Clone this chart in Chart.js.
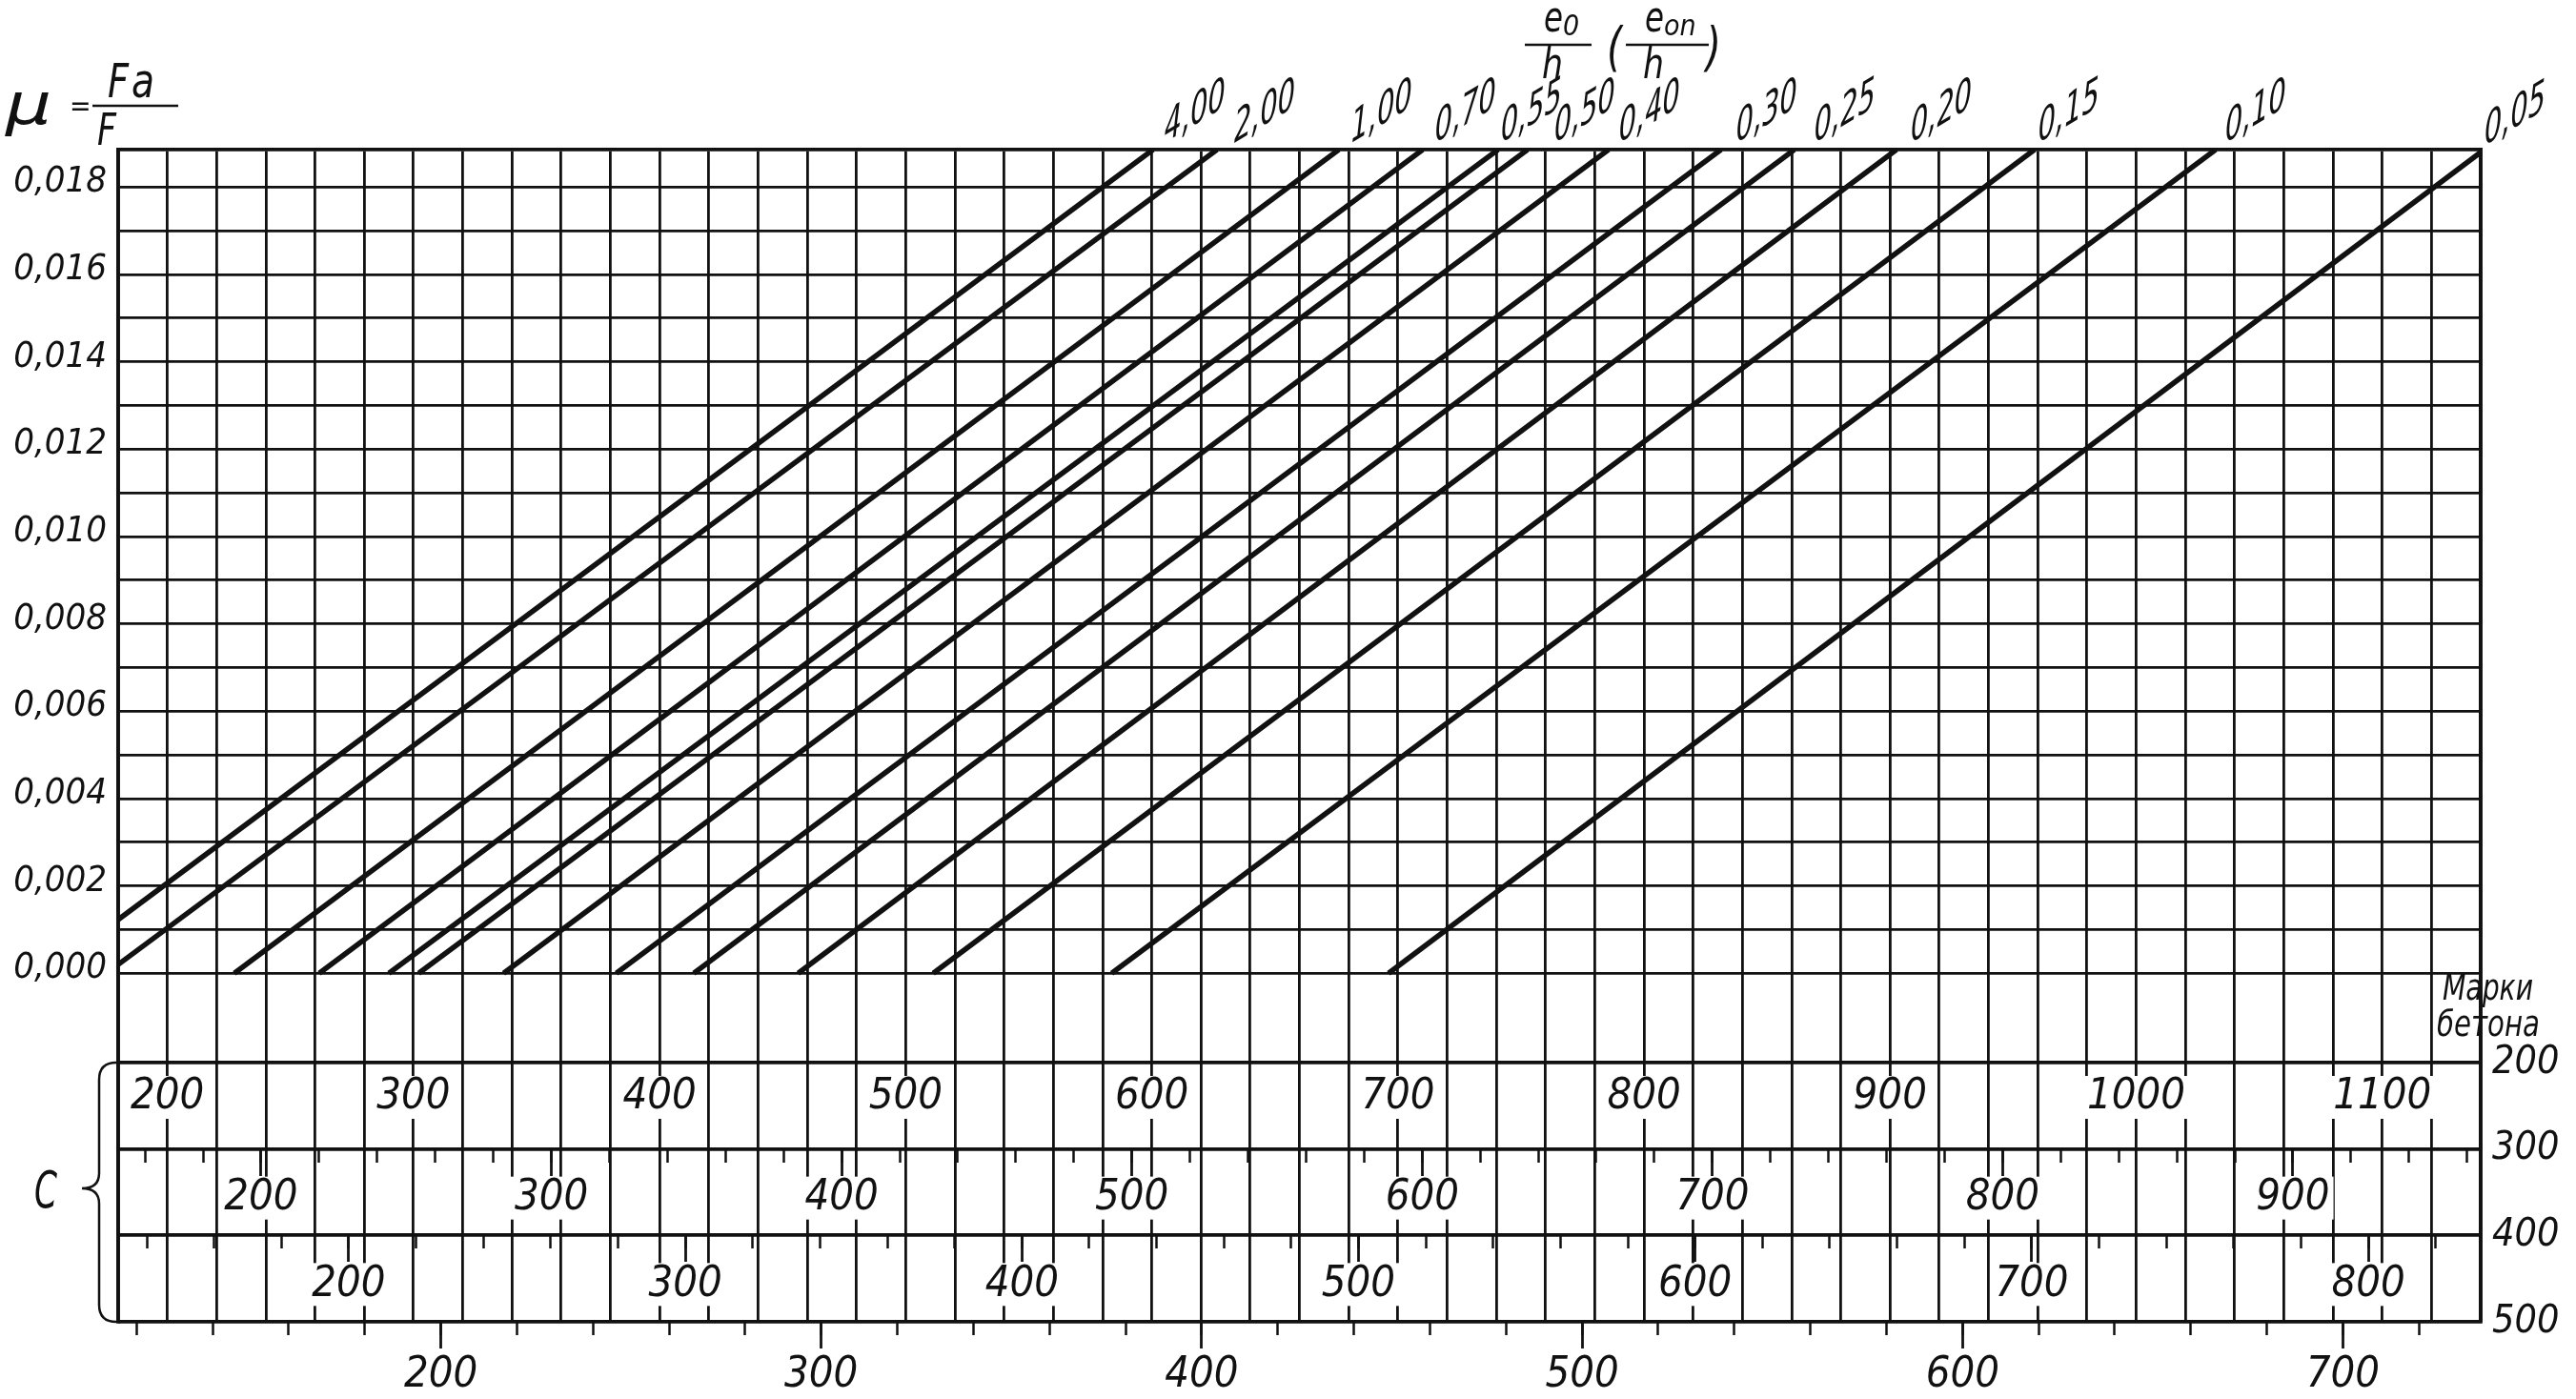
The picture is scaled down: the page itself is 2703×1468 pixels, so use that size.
<!DOCTYPE html>
<html lang="ru">
<head>
<meta charset="utf-8">
<title>Номограмма μ – e0/h – C</title>
<script src="https://cdn.jsdelivr.net/npm/chart.js@4.4.1/dist/chart.umd.min.js"></script>
<style>
  html, body { margin: 0; background: #fff; }
  .box { position: relative; width: 2703px; height: 1468px; }
</style>
</head>
<body>
<div class="box"><canvas id="nomogram"></canvas></div>
<script>
// e0/h (e0n/h) lines: x on the grade-200 C scale, y = mu
const eLabels = ['4,00', '2,00', '1,00', '0,70', '0,55', '0,50', '0,40', '0,30', '0,25', '0,20', '0,15', '0,10', '0,05'];
const xStart  = [180, 180, 227.2, 261.7, 290.0, 302.1, 336.6, 382.4, 413.9, 456.3, 511.2, 583.7, 696.2];
const muStart = [0.00123, 0.0002, 0, 0, 0, 0, 0, 0, 0, 0, 0, 0, 0];
const xEnd    = [600.5, 626.5, 676.0, 710.1, 740.7, 752.7, 785.6, 831.3, 861.1, 902.6, 958.7, 1032.3, 1140];
const muEnd   = [0.01886, 0.01886, 0.01886, 0.01886, 0.01886, 0.01886, 0.01886, 0.01886, 0.01886, 0.01886, 0.01886, 0.01886, 0.0188];
// gap in px between a line's end and its label
const labelGap = [12, 18, 13, 13, 3, 28, 11, 16, 21, 15, 4, 10, 4];

// mu = Fa/F axis
const muTicks = [0, 0.001, 0.002, 0.003, 0.004, 0.005, 0.006, 0.007, 0.008, 0.009,
                 0.010, 0.011, 0.012, 0.013, 0.014, 0.015, 0.016, 0.017, 0.018];
const MU_MIN = -0.00798;
const MU_MAX = 0.01886;

// concrete grades (marks on the right) and their C scales
const grades = [200, 300, 400, 500];
const cMin = [180, 150.75, 131.5, 115.2];
const cMax = [1140, 964.7, 833.4, 736.2];
const cLabels = [
  [200, 300, 400, 500, 600, 700, 800, 900, 1000, 1100],
  [200, 300, 400, 500, 600, 700, 800, 900],
  [200, 300, 400, 500, 600, 700, 800],
  [200, 300, 400, 500, 600, 700]
];
const C_STEP = 20;
const GRADE_TOP = -856.6;   // grade axis value at the top of the grid

const INK = '#111';

// narrow face: a condensed family if there is one, else plain Liberation Sans
const probeCtx = document.createElement('canvas').getContext('2d');
function textW(font, text) { probeCtx.font = font; return probeCtx.measureText(text).width; }
function pickFace() {
  const probe = '0,018 Марки бетона 4,00';
  const mono = textW('40px monospace', probe), serif = textW('40px serif', probe);
  if (textW('40px "Liberation Sans Narrow", monospace', probe) !== mono &&
      textW('40px "Liberation Sans Narrow", serif', probe) !== serif) {
    return { family: '"Liberation Sans Narrow"', stretch: 'normal' };
  }
  for (const fam of ['"Noto Sans"', '"DejaVu Sans"', '"Open Sans"', 'Roboto', '"Liberation Sans"']) {
    const wide = textW(`italic normal 40px ${fam}`, probe);
    const cond = textW(`italic condensed 40px ${fam}`, probe);
    if (cond < wide * 0.9) return { family: fam, stretch: 'condensed' };
  }
  return { family: '"Liberation Sans"', stretch: 'normal' };
}
const FACE = pickFace();
const FAMILY = FACE.family + ', "Liberation Sans", sans-serif';
const css = (size, style = 'italic') => `${style} ${FACE.stretch} ${size}px ${FAMILY}`;
const fitSize = (text, targetW, maxSize) =>
  Math.min(maxSize, Math.floor(maxSize * targetW / textW(css(maxSize), text)));
const tickFont = size => ({ family: FAMILY, size: size, style: 'italic', weight: FACE.stretch, lineHeight: 1 });

const SZ_MU = fitSize('0,018', 98, 46);
const SZ_ROW = fitSize('900', 78, 50);
const SZ_RIGHT = fitSize('200', 72, 48);

function steps(from, to, step) {
  const out = [];
  for (let v = Math.ceil(from / step) * step; v <= to + 1e-9; v += step) out.push(v);
  return out;
}

// text squeezed sideways to a target width, keeping its height
function drawText(ctx, text, x, y, size, maxW, style) {
  ctx.save();
  ctx.font = css(size, style);
  const w = ctx.measureText(text).width;
  const sx = maxW && w > maxW ? maxW / w : 1;
  ctx.translate(x, y);
  ctx.scale(sx, 1);
  ctx.fillText(text, 0, 0);
  ctx.restore();
  return w * sx;
}

// titles, brace and line labels
const annotate = {
  id: 'annotate',
  beforeDraw(chart) {
    const { ctx, width, height } = chart;
    ctx.save();
    ctx.fillStyle = '#fff';
    ctx.fillRect(0, 0, width, height);
    ctx.restore();
  },
  afterDraw(chart) {
    const { ctx, chartArea: ca } = chart;
    ctx.save();
    ctx.fillStyle = INK;
    ctx.strokeStyle = INK;
    ctx.textBaseline = 'alphabetic';

    // e0/h values at the upper end of each line, rising to the right
    ctx.font = css(46);
    const sx = Math.min(1, 64 / ctx.measureText('4,00').width);
    chart.data.datasets.forEach((ds, i) => {
      const pts = chart.getDatasetMeta(i).data;
      const end = pts[pts.length - 1];
      ctx.save();
      ctx.translate(end.x + labelGap[i], end.y - 7);
      ctx.transform(sx, -0.6 * sx, 0, 1, 0, 0);
      ctx.font = css(46);
      ctx.fillText(ds.label, 0, 0);
      ctx.restore();
    });

    const bar = (x1, x2, y) => {
      ctx.beginPath();
      ctx.lineWidth = 2.5;
      ctx.moveTo(x1, y);
      ctx.lineTo(x2, y);
      ctx.stroke();
    };

    // mu = Fa / F
    ctx.save();
    ctx.translate(6, 130);
    ctx.scale(1.4, 1);
    ctx.font = css(60);
    ctx.fillText('μ', 0, 0);
    ctx.restore();
    drawText(ctx, '=', 73, 121, 30, 0, 'normal');
    bar(97, ca.left + 63, 111);
    const fw = drawText(ctx, 'F', 113, 102, 50, 22);
    drawText(ctx, 'a', 113 + fw + 3, 102, 50, 24);
    drawText(ctx, 'F', 102, 152, 46, 20);

    // e0/h (e0n/h)
    const frac = (x, barW, sub, subW) => {
      const ew = drawText(ctx, 'e', x + 20, 33, 44, 20);
      drawText(ctx, sub, x + 20 + ew, 37, 30, subW);
      bar(x, x + barW, 47);
      drawText(ctx, 'h', x + 18, 82, 44, 22);
    };
    frac(1600, 70, '0', 18);
    drawText(ctx, '(', 1686, 68, 56, 16);
    frac(1706, 87, 'on', 40);
    drawText(ctx, ')', 1790, 68, 56, 16);

    // C with a brace over the grade scales
    const yc = chart.scales.yc;
    const yTop = yc.getPixelForValue(grades[0]);
    const yBot = yc.getPixelForValue(grades[grades.length - 1]);
    const yMid = (yTop + yBot) / 2 - 4;
    const xb = ca.left - 20, xt = ca.left - 38;
    ctx.beginPath();
    ctx.lineWidth = 2.5;
    ctx.moveTo(ca.left - 2, yTop);
    ctx.quadraticCurveTo(xb, yTop, xb, yTop + 18);
    ctx.lineTo(xb, yMid - 16);
    ctx.quadraticCurveTo(xb, yMid, xt, yMid);
    ctx.quadraticCurveTo(xb, yMid, xb, yMid + 16);
    ctx.lineTo(xb, yBot - 18);
    ctx.quadraticCurveTo(xb, yBot, ca.left - 2, yBot);
    ctx.stroke();
    drawText(ctx, 'C', 36, yMid + 20, 54, 24);

    // grade caption
    drawText(ctx, 'Марки', ca.right - 40, yTop - 66, 38, 95);
    drawText(ctx, 'бетона', ca.right - 46, yTop - 28, 38, 108);
    ctx.restore();
  }
};

const scales = {
  x: {
    type: 'linear', position: 'top', min: cMin[0], max: cMax[0],
    afterBuildTicks: s => { s.ticks = steps(cMin[0], cMax[0], C_STEP).map(v => ({ value: v })); },
    afterFit: s => { s.height = 0; },
    ticks: { display: false },
    grid: { color: INK, lineWidth: 2.8, drawTicks: false },
    border: { color: INK, width: 3.8 }
  },
  y: {
    type: 'linear', position: 'left', min: MU_MIN, max: MU_MAX,
    afterBuildTicks: s => { s.ticks = muTicks.map(v => ({ value: v })); },
    afterFit: s => { s.width = 124; },
    ticks: {
      autoSkip: false, color: INK, font: tickFont(SZ_MU), padding: 12, labelOffset: -5,
      callback: v => (Math.round(v * 1000) % 2 === 0 ? v.toFixed(3).replace('.', ',') : '')
    },
    grid: { color: INK, lineWidth: 2.8, drawTicks: false },
    border: { color: INK, width: 3.8 }
  },
  yc: {
    type: 'linear', axis: 'y', position: 'right', reverse: true, min: GRADE_TOP, max: grades[grades.length - 1],
    afterBuildTicks: s => { s.ticks = grades.map(v => ({ value: v })); },
    afterFit: s => { s.width = 100; },
    ticks: { autoSkip: false, color: INK, font: tickFont(SZ_RIGHT), padding: 12, callback: v => String(v) },
    grid: { color: INK, lineWidth: 3.8, drawTicks: false },
    border: { color: INK, width: 3.8 }
  }
};

const labelPad = [14, 1, 1, 6];
grades.forEach((g, i) => {
  if (i > 0) {
    scales['minor' + g] = {
      type: 'linear', axis: 'x', position: { yc: g }, min: cMin[i], max: cMax[i],
      afterBuildTicks: s => { s.ticks = steps(cMin[i], cMax[i], C_STEP).map(v => ({ value: v })); },
      ticks: { display: false },
      grid: { drawOnChartArea: false, drawTicks: true, tickLength: 14, tickWidth: 2.5, tickColor: INK, color: INK },
      border: { display: false }
    };
  }
  scales['c' + g] = {
    type: 'linear', axis: 'x', position: { yc: g }, min: cMin[i], max: cMax[i],
    afterBuildTicks: s => { s.ticks = cLabels[i].map(v => ({ value: v })); },
    ticks: {
      autoSkip: false, maxRotation: 0, minRotation: 0, color: INK, font: tickFont(SZ_ROW),
      padding: labelPad[i], showLabelBackdrop: true, backdropColor: '#fff',
      backdropPadding: { top: 0, bottom: 0, left: 4, right: 4 },
      callback: v => String(v)
    },
    grid: { drawOnChartArea: false, drawTicks: i > 0, tickLength: 28, tickWidth: 2.8, tickColor: INK, color: INK },
    border: { display: false }
  };
});

new Chart(document.getElementById('nomogram'), {
  type: 'line',
  data: {
    datasets: eLabels.map((lab, i) => ({
      label: lab,
      data: [{ x: xStart[i], y: muStart[i] }, { x: xEnd[i], y: muEnd[i] }],
      borderColor: INK,
      borderWidth: 5.5,
      pointRadius: 0,
      xAxisID: 'x',
      yAxisID: 'y'
    }))
  },
  options: {
    responsive: true,
    maintainAspectRatio: false,
    animation: false,
    layout: { padding: { top: 157, right: 0, bottom: 81, left: 0 } },
    plugins: { legend: { display: false }, tooltip: { enabled: false } },
    scales: scales
  },
  plugins: [annotate]
});
</script>
</body>
</html>
